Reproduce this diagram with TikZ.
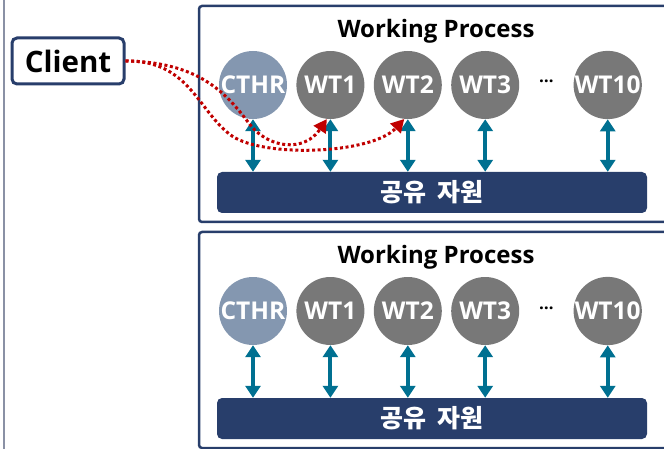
\documentclass[tikz,border=0pt]{standalone}
\usepackage{fontspec}
\setmainfont{Open Sans}
\newfontfamily\krfont{Noto Sans CJK KR}
\usepackage{tikz}
\usetikzlibrary{arrows.meta}
\usetikzlibrary{positioning,calc}
\definecolor{navy}{RGB}{40,62,107}
\definecolor{cthrblue}{RGB}{132,151,176}
\definecolor{wtgray}{RGB}{120,120,120}
\definecolor{teal}{RGB}{0,112,145}
\definecolor{reqred}{RGB}{192,0,0}
\definecolor{sepgray}{RGB}{138,145,165}
\tikzstyle{panel} = [draw=navy, line width=2.5pt, rounded corners=3pt]
\tikzstyle{bt} = [circle, inner sep=0pt, minimum size=68pt, text=white,
    font=\fontsize{24.5}{26}\selectfont\bfseries]
\tikzstyle{cthr} = [bt, fill=cthrblue]
\tikzstyle{wt} = [bt, fill=wtgray]
\tikzstyle{bar} = [rectangle, fill=navy, rounded corners=5pt, text=white,
    minimum width=430pt, minimum height=41pt,
    font=\krfont\fontsize{25}{28}\selectfont\bfseries]
\tikzstyle{title} = [font=\fontsize{24}{26}\selectfont\bfseries]
\tikzstyle{client} = [rectangle, draw=navy, line width=3pt, rounded corners=5pt,
    minimum width=112pt, minimum height=46pt, font=\fontsize{29.5}{32}\selectfont\bfseries]
\tikzstyle{dbl} = [teal, line width=4pt, {Triangle[length=12pt,width=15pt]}-{Triangle[length=12pt,width=15pt]}]
\tikzstyle{req} = [reqred, line width=3pt, dash pattern=on 3pt off 2.6pt,
    -{Triangle[length=13pt,width=14pt]}]

\begin{document}
\begin{tikzpicture}[x=1pt,y=-1pt,node distance=9pt]
  \useasboundingbox (0,0) rectangle (664,449);

  \draw[sepgray, line width=2pt] (4,0) -- (4,449);

  \node[client] (client) at (68,61) {Client};

  % two working processes
  \foreach \p/\dy in {up/0,low/226} {
    \begin{scope}[yshift=-\dy pt]
      \draw[panel] (199,6) rectangle (672,222);
      \node[title]  (\p-title) at (436,31) {Working Process};
      \node[cthr]   (\p-cthr)  at (253,85) {CTHR};
      \node[wt]     (\p-wt1)  [right=of \p-cthr] {WT1};
      \node[wt]     (\p-wt2)  [right=of \p-wt1]  {WT2};
      \node[wt]     (\p-wt3)  [right=of \p-wt2]  {WT3};
      \node[wt]     (\p-wt10) [right=54pt of \p-wt3] {WT10};
      \node[font=\fontsize{17}{17}\selectfont\bfseries, anchor=base]
            (\p-dots) at ($(\p-wt3)!0.5!(\p-wt10)+(0,-2)$) {…};
      \node[bar]    (\p-bar)   at (432,192.5) {공유\hspace{0.45em}자원};
      \foreach \n in {cthr,wt1,wt2,wt3,wt10}
        \draw[dbl] (\p-\n.south) -- (\p-\n.south |- \p-bar.north);
    \end{scope}
  }

  % requests from the client
  \draw[req] (client.east) .. controls (198,62) and (225,92) .. (248,122)
                           .. controls (268,150) and (305,152) .. (up-wt1.264);
  \draw[req] (client.east) .. controls (190,60) and (198,112) .. (232,136)
                           .. controls (265,158) and (372,154) .. (up-wt2.264);
\end{tikzpicture}
\end{document}
